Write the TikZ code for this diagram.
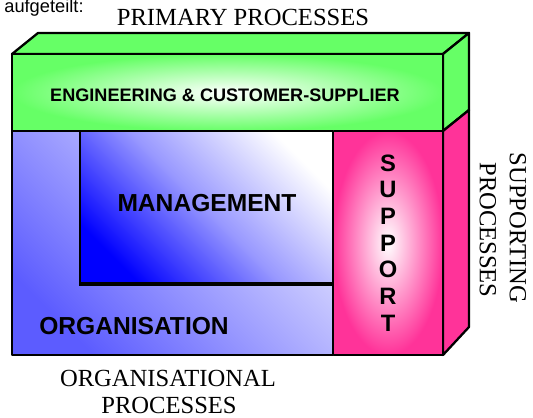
\documentclass[tikz,border=0pt]{standalone}
\usepackage{fontspec}
\setmainfont{Liberation Serif}
\setsansfont{Liberation Sans}
\usepackage{xcolor}
\usepackage{tikz}
\definecolor{boxgreen}{RGB}{102,255,102}
\definecolor{boxpink}{RGB}{255,51,153}
\definecolor{orgblue}{RGB}{92,92,255}
\definecolor{orglight}{RGB}{232,232,255}
\definecolor{mgmtblue}{RGB}{0,0,255}

\begin{document}
\begin{tikzpicture}[x=0.02cm,y=-0.02cm,
    edge/.style={draw=black,line width=1.3pt,line join=round},
    blocklabel/.style={font=\sffamily\bfseries\fontsize{14}{14}\selectfont,inner sep=0pt},
    sidelabel/.style={font=\fontsize{14}{14}\selectfont,inner sep=0pt}]
    \useasboundingbox (0,0) rectangle (533,418);

    % Top block: engineering & customer-supplier
    \filldraw[edge,fill=boxgreen] (12,54) -- (38,33) -- (469,33) -- (443,54) -- cycle;
    \filldraw[edge,fill=boxgreen] (443,54) -- (469,33) -- (469,110) -- (443,131) -- cycle;
    \shade[inner color=white,outer color=boxgreen] (12,54) rectangle (443,131);
    \draw[edge] (12,54) rectangle (443,131);

    % Right block: support
    \filldraw[edge,fill=boxpink] (443,131) -- (469,110) -- (469,327) -- (443,355) -- cycle;
    \shade[inner color=white,outer color=boxpink] (333,131) rectangle (443,355);
    \draw[edge] (333,131) rectangle (443,355);

    % Organisation with management inset
    \shade[top color=orglight,bottom color=orgblue,shading angle=-45] (12,131) rectangle (333,355);
    \shade[top color=white,bottom color=mgmtblue,middle color=mgmtblue!40!white,shading angle=-45] (80,131) rectangle (333,284);
    \draw[edge] (80,131) -- (80,284);
    \draw[edge,line width=2.2pt] (79,284) -- (333,284);
    \draw[edge] (12,131) rectangle (333,355);

    % Labels on the blocks
    \node[blocklabel,anchor=base,font=\sffamily\bfseries\fontsize{10.3}{12}\selectfont] (eng) at (225,102) {ENGINEERING \& CUSTOMER-SUPPLIER};
    \node[blocklabel,anchor=base] (mgmt) at (207,212) {MANAGEMENT};
    \node[blocklabel,anchor=base] (org) at (134,334) {ORGANISATION};
    \foreach \letter [count=\i from 0] in {S,U,P,P,O,R,T}
        \node[blocklabel,font=\sffamily\bfseries\fontsize{13.5}{14}\selectfont] (sup\i) at (388,163+26.7*\i) {\letter};

    % Process names round the block
    \node[anchor=base west,inner sep=0pt,font=\sffamily\fontsize{10.4}{12}\selectfont] (split) at (4,13) {aufgeteilt:};
    \node[sidelabel,anchor=base] (primary) at (243,26) {PRIMARY PROCESSES};
    \node[sidelabel,rotate=-90] (supporting) at (518,228) {SUPPORTING};
    \node[sidelabel,rotate=-90] (suppproc) at (488,230) {PROCESSES};
    \node[sidelabel,anchor=base] (orgproc) at (168,386) {ORGANISATIONAL};
    \node[sidelabel,anchor=base] (orgproc2) at (169,413) {PROCESSES};
\end{tikzpicture}
\end{document}
